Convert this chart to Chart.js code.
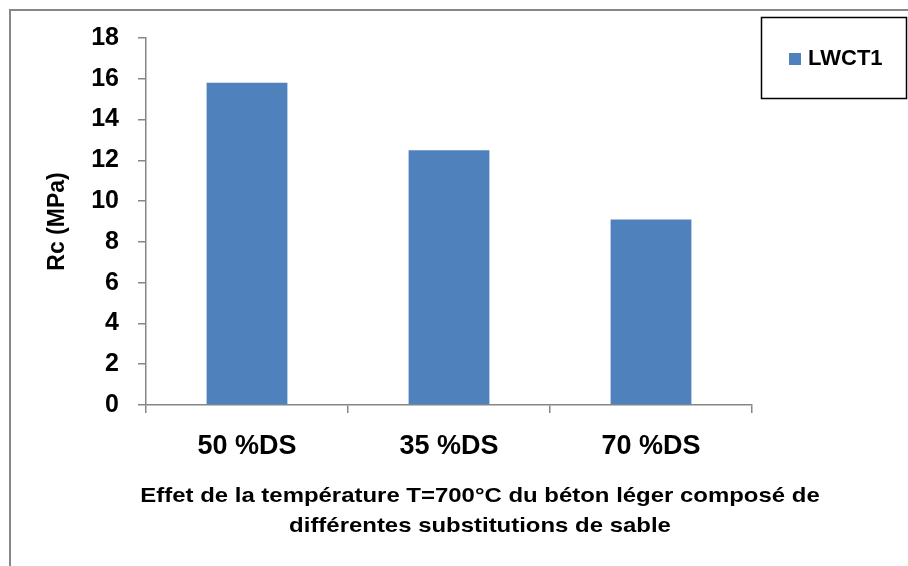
<!DOCTYPE html>
<html>
<head>
<meta charset="utf-8">
<script src="https://cdn.jsdelivr.net/npm/chart.js@4"></script>
<style>
  html, body { margin: 0; padding: 0; background: #fff; }
  #wrap { width: 908px; height: 566px; position: relative; }
</style>
</head>
<body>
<div id="wrap"><canvas id="rcChart" width="908" height="566"></canvas></div>
<script>
// donnees
var categories = ["50 %DS", "35 %DS", "70 %DS"];
var rcValues = [15.8, 12.5, 9.1];
var seriesLabel = "LWCT1";
var yTicks = [0, 2, 4, 6, 8, 10, 12, 14, 16, 18];
var xTitle = ["Effet de la température T=700°C du béton léger composé de",
              "différentes substitutions de sable"];
var yTitle = "Rc (MPa)";

var FONT = "'Liberation Sans', Arial, sans-serif";
var AXIS_GRAY = "#868686";

// cadre exterieur + fond blanc
var framePlugin = {
  id: "frame",
  beforeDraw: function(chart) {
    var ctx = chart.ctx;
    ctx.save();
    ctx.fillStyle = "#fff";
    ctx.fillRect(0, 0, chart.width, chart.height);
    ctx.strokeStyle = "#878787";
    ctx.lineWidth = 2;
    ctx.strokeRect(10, 10, 1000, 1000);
    ctx.restore();
  }
};

// legende encadree a droite
var legendBoxPlugin = {
  id: "legendBox",
  afterDraw: function(chart) {
    var ctx = chart.ctx;
    var ds = chart.data.datasets[0];
    ctx.save();
    ctx.strokeStyle = "#000";
    ctx.lineWidth = 1.5;
    ctx.strokeRect(761.5, 17.5, 145, 81);
    ctx.fillStyle = ds.backgroundColor;
    ctx.fillRect(789, 53, 12, 12);
    ctx.fillStyle = "#000";
    ctx.font = "bold 22px " + FONT;
    ctx.textBaseline = "middle";
    ctx.textAlign = "left";
    ctx.fillText(ds.label, 808, 59);
    ctx.restore();
  }
};

// titre de l'axe x (un peu decale a droite, texte elargi comme dans l'original)
var xTitlePlugin = {
  id: "xTitle",
  afterDraw: function(chart) {
    var ctx = chart.ctx;
    ctx.save();
    ctx.fillStyle = "#000";
    ctx.font = "bold 21px " + FONT;
    ctx.textAlign = "center";
    ctx.textBaseline = "alphabetic";
    for (var i = 0; i < xTitle.length; i++) {
      ctx.save();
      ctx.translate(480, 502 + i * 30);
      ctx.scale(1.14, 1);
      ctx.fillText(xTitle[i], 0, 0);
      ctx.restore();
    }
    ctx.restore();
  }
};

var config = {
  type: "bar",
  data: {
    labels: categories,
    datasets: [
      {
        label: seriesLabel,
        data: rcValues,
        backgroundColor: "#4F81BD",
        borderWidth: 0,
        categoryPercentage: 1.0,
        barPercentage: 0.4
      }
    ]
  },
  options: {
    responsive: false,
    animation: false,
    devicePixelRatio: 1,
    layout: {
      padding: { left: 0, right: 156, top: 38, bottom: 0 }
    },
    scales: {
      x: {
        grid: {
          display: true,
          offset: true,
          drawOnChartArea: false,
          drawTicks: true,
          tickLength: 8,
          color: AXIS_GRAY,
          lineWidth: 1.5
        },
        border: { display: true, color: AXIS_GRAY, width: 1.5 },
        ticks: {
          color: "#000",
          padding: 17,
          font: { family: FONT, size: 27, weight: "bold" }
        },
        title: { display: false },
        afterFit: function(scale) { scale.height = 161; }
      },
      y: {
        min: 0,
        max: 18,
        afterBuildTicks: function(scale) {
          scale.ticks = yTicks.map(function(v) { return { value: v }; });
        },
        grid: {
          display: true,
          drawOnChartArea: false,
          drawTicks: true,
          tickLength: 8,
          color: AXIS_GRAY,
          lineWidth: 1.5
        },
        border: { display: true, color: AXIS_GRAY, width: 1.5 },
        ticks: {
          color: "#000",
          padding: 19,
          font: { family: FONT, size: 25, weight: "bold" }
        },
        title: {
          display: true,
          text: yTitle,
          color: "#000",
          padding: { top: 44, bottom: 0 },
          font: { family: FONT, size: 23, weight: "bold", lineHeight: 1.2 }
        },
        afterFit: function(scale) { scale.width = 146; }
      }
    },
    plugins: {
      legend: { display: false },
      tooltip: { enabled: false },
      title: { display: false }
    }
  },
  plugins: [framePlugin, legendBoxPlugin, xTitlePlugin]
};

var myBarChart = new Chart(document.getElementById("rcChart"), config);
</script>
</body>
</html>
